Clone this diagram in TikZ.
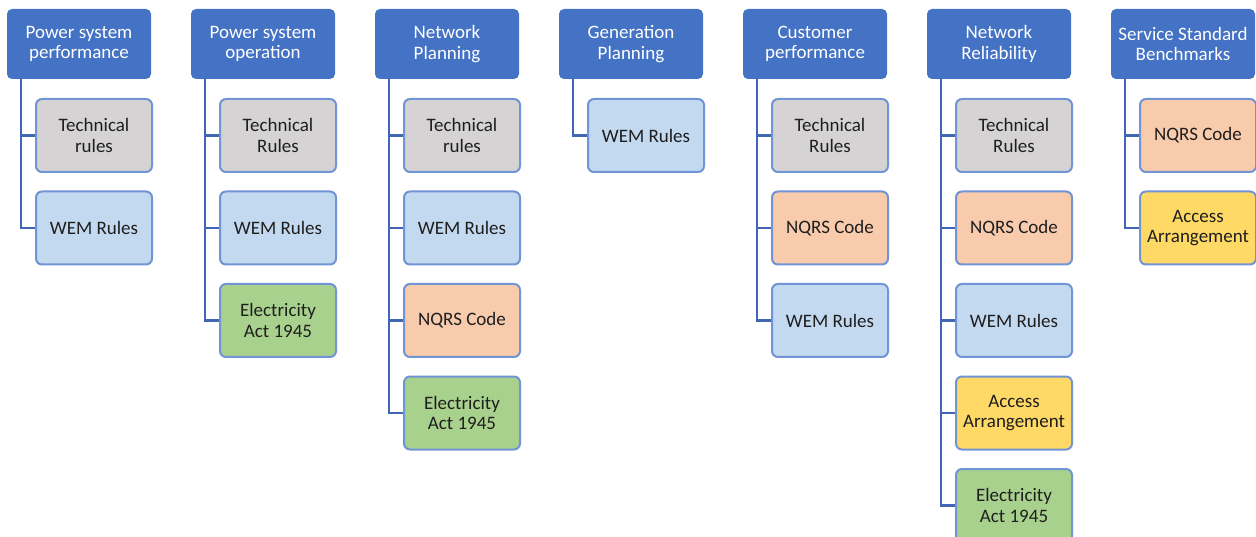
\documentclass[tikz,border=0pt]{standalone}
\usepackage{fontspec}
\setmainfont{Carlito}
\usepackage{tikz}
\usetikzlibrary{trees}

\definecolor{headblue}{HTML}{4472C4}
\definecolor{leafline}{HTML}{7194D4}
\definecolor{linkblue}{HTML}{4166B8}
\definecolor{leaftext}{HTML}{1E1E1E}
\definecolor{techgrey}{HTML}{D5D3D3}
\definecolor{wemblue}{HTML}{C3D9F0}
\definecolor{actgreen}{HTML}{A9D18E}
\definecolor{nqrspink}{HTML}{F8CBAD}
\definecolor{accessyellow}{HTML}{FFD966}

\begin{document}
\begin{tikzpicture}[x=1pt,y=1pt,
	font=\fontsize{19}{20.5}\selectfont,
	head/.style={fill=headblue, text=white, align=center, rounded corners=5pt,
		minimum width=144pt, minimum height=70pt, inner sep=0pt},
	leaf/.style={draw=leafline, line width=2pt, text=leaftext, align=center,
		rounded corners=6pt, minimum width=116pt, minimum height=73pt, inner sep=0pt},
	techbox/.style={leaf, fill=techgrey},
	wembox/.style={leaf, fill=wemblue},
	actbox/.style={leaf, fill=actgreen},
	nqrsbox/.style={leaf, fill=nqrspink},
	accessbox/.style={leaf, fill=accessyellow},
	grow via three points={one child at (15,-91.5) and two children at (15,-91.5) and (15,-184)},
	edge from parent/.style={draw=linkblue, line width=2.6pt},
	edge from parent path={([xshift=14pt]\tikzparentnode.south west) |- (\tikzchildnode.west)}]
	\useasboundingbox (0,0) rectangle (1256,-537);
	\node[head] (perf) at (79,-44) {Power system\\performance}
	child {node[techbox] (perf-1) {Technical\\rules}}
	child {node[wembox] (perf-2) {WEM Rules}};
	\node[head] (oper) at (263,-44) {Power system\\operation}
	child {node[techbox] (oper-1) {Technical\\Rules}}
	child {node[wembox] (oper-2) {WEM Rules}}
	child {node[actbox] (oper-3) {Electricity\\Act 1945}};
	\node[head] (netplan) at (447,-44) {Network\\Planning}
	child {node[techbox] (netplan-1) {Technical\\rules}}
	child {node[wembox] (netplan-2) {WEM Rules}}
	child {node[nqrsbox] (netplan-3) {NQRS Code}}
	child {node[actbox] (netplan-4) {Electricity\\Act 1945}};
	\node[head] (genplan) at (631,-44) {Generation\\Planning}
	child {node[wembox] (genplan-1) {WEM Rules}};
	\node[head] (cust) at (815,-44) {Customer\\performance}
	child {node[techbox] (cust-1) {Technical\\Rules}}
	child {node[nqrsbox] (cust-2) {NQRS Code}}
	child {node[wembox] (cust-3) {WEM Rules}};
	\node[head] (rel) at (999,-44) {Network\\Reliability}
	child {node[techbox] (rel-1) {Technical\\Rules}}
	child {node[nqrsbox] (rel-2) {NQRS Code}}
	child {node[wembox] (rel-3) {WEM Rules}}
	child {node[accessbox] (rel-4) {Access\\Arrangement}}
	child {node[actbox] (rel-5) {Electricity\\Act 1945}};
	\node[head] (bench) at (1183,-44) {Service Standard\\Benchmarks}
	child {node[nqrsbox] (bench-1) {NQRS Code}}
	child {node[accessbox] (bench-2) {Access\\Arrangement}};
\end{tikzpicture}
\end{document}
